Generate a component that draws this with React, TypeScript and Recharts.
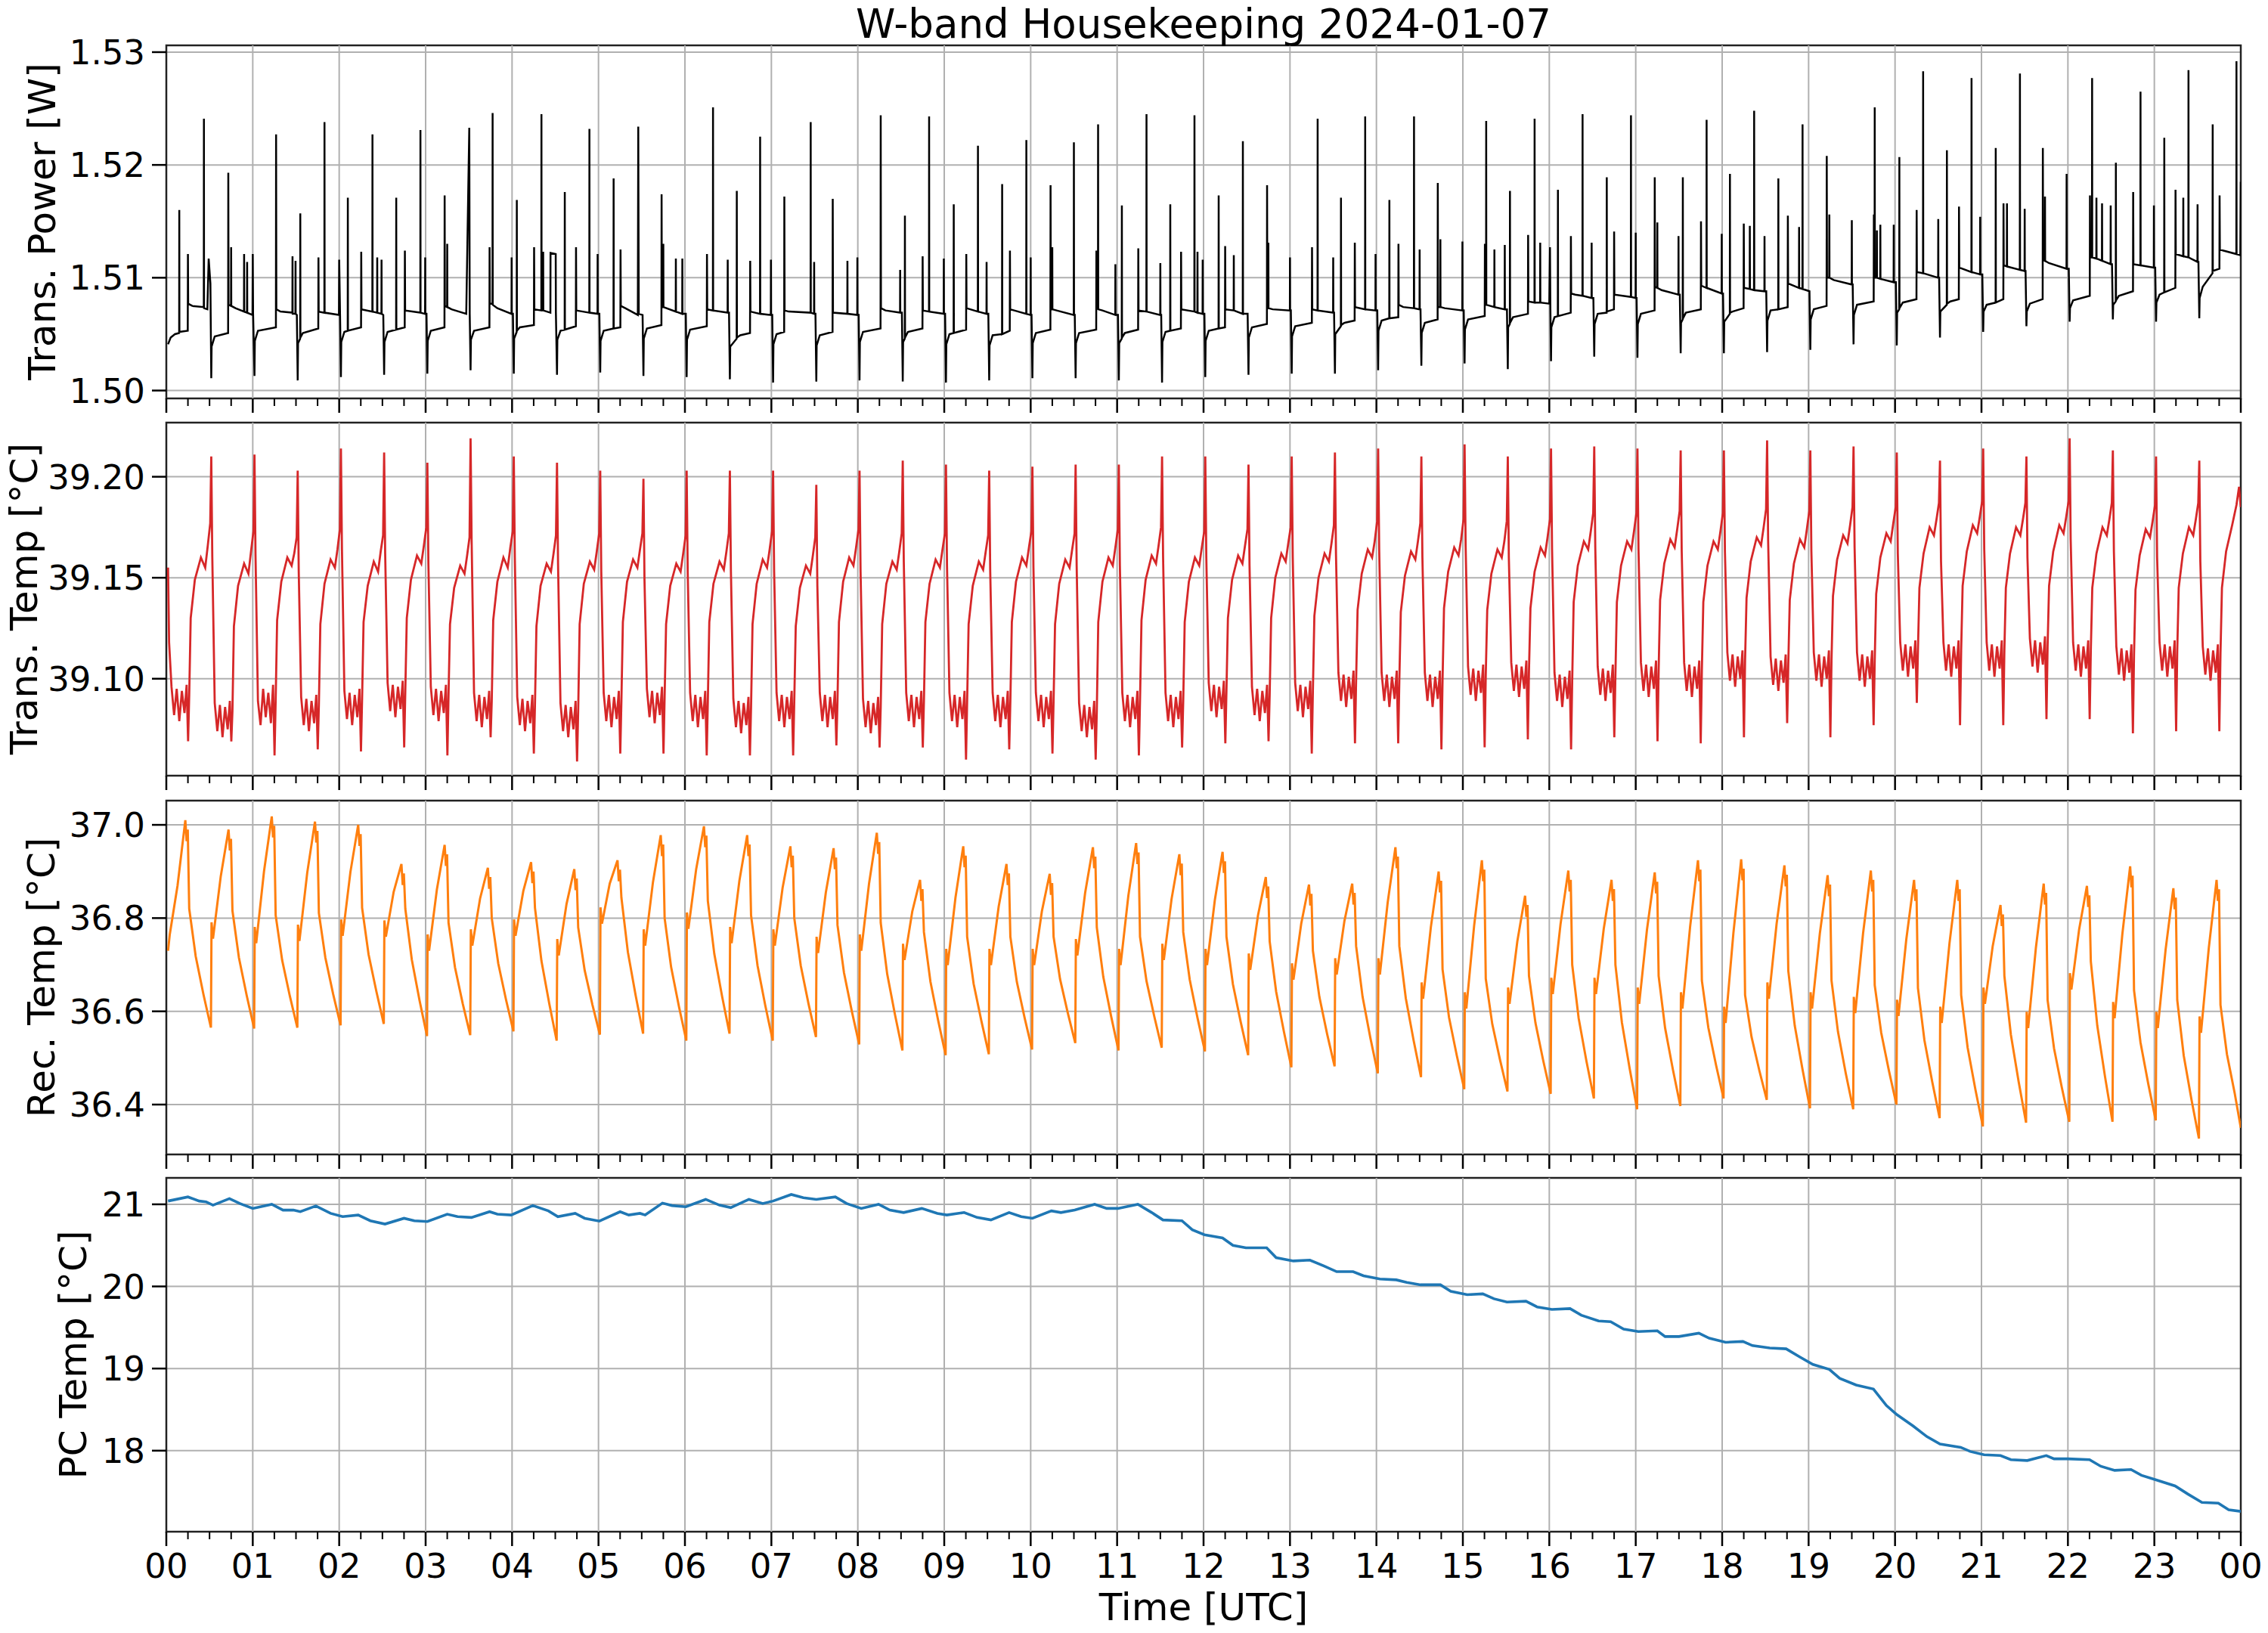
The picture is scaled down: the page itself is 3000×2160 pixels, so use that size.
import React from 'react'
import { LineChart, Line, XAxis, YAxis, CartesianGrid, ReferenceLine, ReferenceArea } from 'recharts'

const FONT = 'DejaVu Sans'

// x axis: hours of the day, major tick every hour, minor every 15 min
const hourLabels = ['00', '01', '02', '03', '04', '05', '06', '07', '08', '09', '10', '11', '12', '13', '14', '15', '16', '17', '18', '19', '20', '21', '22', '23', '00']
const quarterTicks = hourLabels.flatMap((_, h) => (h < 24 ? [h, h + 0.25, h + 0.5, h + 0.75] : [h]))
const gridHours = hourLabels.map((_, h) => h).filter((h) => h > 0 && h < 24)

const powerTicks = [1.5, 1.51, 1.52, 1.53]
const transTicks = [39.1, 39.15, 39.2]
const recTicks = [36.4, 36.6, 36.8, 37.0]
const pcTicks = [18, 19, 20, 21]

// [hour, W]
const transPower: [number, number][] = [
  [0.02,1.5041],[0.05,1.5047],[0.1,1.505],[0.1485,1.5051],[0.15,1.516],[0.1515,1.5052],[0.248,1.5053],[0.25,1.5121],[0.253,1.5077],[0.3,1.5075],[0.4335,1.5074],[0.435,1.5241],[0.4365,1.5073],[0.475,1.5072],[0.49,1.5117],[0.51,1.5095],
  [0.52,1.5011],[0.524,1.5039],[0.56,1.5048],[0.715,1.5051],[0.717,1.5193],[0.72,1.5076],[0.7485,1.5075],[0.75,1.5127],[0.7515,1.5075],[0.8,1.5073],[0.8985,1.507],[0.9,1.5121],[0.9015,1.507],[0.9335,1.5069],[0.935,1.5114],[0.9365,1.5069],[0.997,1.5067],[1.0,1.5121],[1.004,1.5068],
  [1.02,1.5013],[1.024,1.5044],[1.06,1.5053],[1.268,1.5056],[1.27,1.5227],[1.273,1.5072],[1.32,1.507],[1.4585,1.5069],[1.46,1.5119],[1.4615,1.5068],[1.4935,1.5068],[1.495,1.5115],[1.4965,1.5068],[1.51,1.5067],
  [1.52,1.5009],[1.524,1.5042],[1.5485,1.5046],[1.55,1.5157],[1.5515,1.5047],[1.58,1.5051],[1.758,1.5055],[1.76,1.5118],[1.763,1.507],[1.8285,1.5069],[1.83,1.5238],[1.8315,1.5069],[1.997,1.5067],[2.0,1.5116],[2.01,1.5067],
  [2.02,1.5012],[2.024,1.5043],[2.06,1.5052],[2.0985,1.5053],[2.1,1.5171],[2.1015,1.5053],[2.253,1.5056],[2.255,1.5123],[2.258,1.5072],[2.3835,1.507],[2.385,1.5227],[2.3865,1.507],[2.4385,1.5069],[2.44,1.5118],[2.4415,1.5069],[2.4885,1.5068],[2.49,1.5116],[2.4915,1.5068],[2.51,1.5067],
  [2.52,1.5014],[2.524,1.5043],[2.56,1.5052],[2.6585,1.5054],[2.66,1.5171],[2.6615,1.5054],[2.758,1.5056],[2.76,1.5124],[2.763,1.5071],[2.9385,1.5069],[2.94,1.5231],[2.9415,1.5069],[2.9935,1.5068],[2.995,1.5118],[2.9965,1.5068],[3.01,1.5068],
  [3.02,1.5015],[3.024,1.5044],[3.06,1.5053],[3.218,1.5056],[3.22,1.5173],[3.223,1.5075],[3.2485,1.5074],[3.25,1.513],[3.2515,1.5074],[3.3,1.5072],[3.47,1.5068],[3.505,1.5233],[3.51,1.5068],
  [3.52,1.5018],[3.524,1.5045],[3.56,1.5053],[3.738,1.5056],[3.74,1.5127],[3.743,1.5077],[3.7735,1.5077],[3.775,1.5246],[3.7765,1.5076],[3.83,1.5073],[3.9935,1.5068],[3.995,1.5118],[3.9965,1.5068],[4.01,1.5068],
  [4.02,1.5015],[4.024,1.5046],[4.0535,1.5052],[4.055,1.5169],[4.0565,1.5053],[4.09,1.5056],[4.253,1.5058],[4.255,1.5127],[4.258,1.5072],[4.3385,1.5071],[4.34,1.5245],[4.3415,1.5071],[4.3585,1.5071],[4.36,1.5123],[4.3615,1.5071],[4.4435,1.5069],[4.445,1.5122],[4.505,1.5121],[4.507,1.5069],
  [4.52,1.5014],[4.524,1.5045],[4.56,1.5053],[4.6085,1.5054],[4.61,1.5176],[4.6115,1.5054],[4.738,1.5057],[4.74,1.5127],[4.743,1.5071],[4.8935,1.5069],[4.895,1.5232],[4.8965,1.5069],[4.9885,1.5068],[4.99,1.5121],[4.9915,1.5068],[5.01,1.5068],
  [5.02,1.5016],[5.024,1.5044],[5.06,1.5053],[5.1735,1.5055],[5.175,1.5188],[5.1765,1.5055],[5.253,1.5056],[5.255,1.5125],[5.258,1.5075],[5.31,1.5073],[5.455,1.5067],[5.46,1.5234],[5.466,1.5068],[5.51,1.5067],
  [5.52,1.5013],[5.524,1.5046],[5.56,1.5055],[5.728,1.5058],[5.73,1.5174],[5.733,1.5074],[5.7485,1.5074],[5.75,1.513],[5.7515,1.5074],[5.8935,1.507],[5.895,1.5117],[5.8965,1.507],[5.9685,1.5068],[5.97,1.5117],[5.9715,1.5068],[6.01,1.5068],
  [6.02,1.5012],[6.024,1.5045],[6.06,1.5054],[6.253,1.5057],[6.255,1.5121],[6.258,1.5072],[6.3235,1.5071],[6.325,1.5251],[6.3265,1.5071],[6.4935,1.5069],[6.495,1.5116],[6.4965,1.5069],[6.51,1.5069],
  [6.52,1.501],[6.524,1.5039],[6.5985,1.5046],[6.6,1.5177],[6.6015,1.5047],[6.64,1.5049],[6.753,1.5051],[6.755,1.5115],[6.758,1.507],[6.8685,1.5068],[6.87,1.5225],[6.8715,1.5068],[6.9935,1.5067],[6.995,1.5116],[6.9965,1.5067],[7.01,1.5067],
  [7.02,1.5007],[7.024,1.5041],[7.06,1.505],[7.148,1.5052],[7.15,1.5172],[7.153,1.5071],[7.2,1.507],[7.4535,1.5069],[7.455,1.5238],[7.4565,1.5069],[7.4935,1.5068],[7.495,1.5114],[7.4965,1.5068],[7.51,1.5068],
  [7.52,1.5008],[7.524,1.504],[7.56,1.5049],[7.708,1.5052],[7.71,1.517],[7.713,1.5069],[7.8785,1.5068],[7.88,1.5115],[7.8815,1.5068],[7.9935,1.5067],[7.995,1.5118],[7.9965,1.5067],[8.01,1.5067],
  [8.02,1.5009],[8.024,1.5043],[8.06,1.5052],[8.263,1.5055],[8.265,1.5244],[8.268,1.5073],[8.32,1.5071],[8.4885,1.5069],[8.49,1.5107],[8.4915,1.5069],[8.51,1.5069],
  [8.52,1.5008],[8.524,1.5043],[8.5435,1.5046],[8.545,1.5155],[8.5465,1.5047],[8.58,1.5052],[8.748,1.5055],[8.75,1.5119],[8.753,1.5071],[8.8235,1.507],[8.825,1.5243],[8.8265,1.507],[8.9935,1.5068],[8.995,1.5117],[8.9965,1.5068],[9.01,1.5068],
  [9.02,1.5007],[9.024,1.5041],[9.06,1.505],[9.1085,1.5051],[9.11,1.5165],[9.1115,1.5051],[9.253,1.5054],[9.255,1.5121],[9.258,1.5073],[9.3885,1.507],[9.39,1.5217],[9.3915,1.507],[9.4885,1.5068],[9.49,1.5114],[9.4915,1.5068],[9.51,1.5068],
  [9.52,1.5009],[9.524,1.504],[9.56,1.5049],[9.6685,1.505],[9.67,1.5183],[9.6715,1.505],[9.758,1.5053],[9.76,1.5124],[9.763,1.5072],[9.9485,1.5068],[9.95,1.5222],[9.9515,1.5068],[9.9985,1.5067],[10.0,1.5118],[10.0015,1.5067],[10.01,1.5067],
  [10.02,1.5011],[10.024,1.5042],[10.06,1.5051],[10.228,1.5054],[10.23,1.5182],[10.233,1.5072],[10.2485,1.5072],[10.25,1.5127],[10.2515,1.5072],[10.3,1.5071],[10.4985,1.5067],[10.5,1.522],[10.5015,1.5067],[10.51,1.5067],
  [10.52,1.5011],[10.524,1.5042],[10.56,1.5051],[10.758,1.5054],[10.76,1.5124],[10.763,1.5073],[10.7785,1.5073],[10.78,1.5236],[10.7815,1.5072],[10.83,1.5071],[10.9785,1.5067],[10.98,1.5112],[10.9815,1.5067],[11.01,1.5067],
  [11.02,1.5009],[11.024,1.5042],[11.0535,1.5046],[11.055,1.5164],[11.0565,1.5047],[11.09,1.5051],[11.243,1.5054],[11.245,1.5126],[11.248,1.5071],[11.3385,1.507],[11.34,1.5245],[11.3415,1.507],[11.4985,1.5067],[11.5,1.5113],[11.5015,1.5067],[11.51,1.5067],
  [11.52,1.5007],[11.524,1.5043],[11.56,1.5052],[11.6135,1.5053],[11.615,1.5165],[11.6165,1.5053],[11.738,1.5055],[11.74,1.5123],[11.743,1.5072],[11.8935,1.507],[11.895,1.5244],[11.8965,1.507],[11.9285,1.5069],[11.93,1.5123],[11.9315,1.5069],[11.9885,1.5068],[11.99,1.5116],[11.9915,1.5068],[12.01,1.5068],
  [12.02,1.5012],[12.024,1.5044],[12.06,1.5053],[12.1735,1.5055],[12.175,1.5173],[12.1765,1.5055],[12.248,1.5056],[12.25,1.5128],[12.253,1.5072],[12.3485,1.5071],[12.35,1.512],[12.3515,1.5071],[12.4535,1.5068],[12.455,1.5221],[12.4565,1.5068],[12.51,1.5068],
  [12.52,1.5014],[12.524,1.5047],[12.56,1.5056],[12.733,1.5059],[12.735,1.5182],[12.738,1.5073],[12.7485,1.5073],[12.75,1.5131],[12.7515,1.5073],[12.8,1.5072],[12.9985,1.5071],[13.0,1.5118],[13.0015,1.5071],[13.01,1.5071],
  [13.02,1.5015],[13.024,1.5048],[13.06,1.5057],[13.253,1.506],[13.255,1.5127],[13.258,1.5072],[13.3185,1.5071],[13.32,1.5241],[13.3215,1.5071],[13.4985,1.5069],[13.5,1.5118],[13.5015,1.5069],[13.51,1.5069],
  [13.52,1.5015],[13.524,1.505],[13.5885,1.5057],[13.59,1.5171],[13.5915,1.5058],[13.63,1.506],[13.748,1.5062],[13.75,1.5131],[13.753,1.5074],[13.8685,1.5072],[13.87,1.5243],[13.8715,1.5072],[13.9885,1.5071],[13.99,1.5121],[13.9915,1.5071],[14.01,1.5071],
  [14.02,1.5018],[14.024,1.5053],[14.06,1.5062],[14.1485,1.5064],[14.15,1.5169],[14.1515,1.5064],[14.253,1.5065],[14.255,1.513],[14.258,1.5076],[14.31,1.5074],[14.4335,1.5073],[14.435,1.5243],[14.4365,1.5073],[14.4985,1.5072],[14.5,1.5125],[14.5015,1.5072],[14.51,1.5072],
  [14.52,1.5022],[14.524,1.5051],[14.56,1.506],[14.708,1.5063],[14.71,1.5184],[14.713,1.5074],[14.7385,1.5074],[14.74,1.5134],[14.7415,1.5074],[14.79,1.5073],[14.9935,1.5071],[14.995,1.5132],[14.9965,1.5071],[15.01,1.5071],
  [15.02,1.5024],[15.024,1.5054],[15.06,1.5063],[15.253,1.5066],[15.255,1.513],[15.258,1.5076],[15.2685,1.5076],[15.27,1.5239],[15.2715,1.5076],[15.3635,1.5074],[15.365,1.5125],[15.3665,1.5074],[15.4835,1.5072],[15.485,1.5129],[15.4865,1.5072],[15.51,1.5072],
  [15.52,1.5019],[15.524,1.5056],[15.5435,1.5059],[15.545,1.5177],[15.5465,1.506],[15.58,1.5065],[15.753,1.5068],[15.755,1.5138],[15.758,1.5079],[15.8285,1.5078],[15.83,1.5241],[15.8315,1.5078],[15.8935,1.5078],[15.895,1.5131],[15.8965,1.5078],[16.0,1.5077],[16.008,1.5127],[16.012,1.5077],
  [16.02,1.5026],[16.024,1.5056],[16.06,1.5065],[16.0985,1.5066],[16.1,1.5178],[16.1015,1.5066],[16.248,1.5069],[16.25,1.5137],[16.253,1.5086],[16.3,1.5085],[16.3835,1.5084],[16.385,1.5245],[16.3865,1.5084],[16.4885,1.5082],[16.49,1.5131],[16.4915,1.5082],[16.51,1.5082],
  [16.52,1.503],[16.524,1.5059],[16.56,1.5068],[16.6635,1.5069],[16.665,1.5189],[16.6665,1.507],[16.748,1.5072],[16.75,1.5141],[16.753,1.5085],[16.9435,1.5083],[16.945,1.5244],[16.9465,1.5083],[16.9985,1.5082],[17.0,1.514],[17.0015,1.5082],[17.01,1.5082],
  [17.02,1.5029],[17.024,1.5059],[17.06,1.5068],[17.218,1.5071],[17.22,1.5189],[17.223,1.5092],[17.2485,1.5091],[17.25,1.5149],[17.2515,1.5091],[17.3,1.5089],[17.4935,1.5085],[17.495,1.5137],[17.4965,1.5085],[17.51,1.5085],
  [17.52,1.5033],[17.524,1.506],[17.5435,1.5063],[17.545,1.5189],[17.5465,1.5064],[17.58,1.5069],[17.753,1.5072],[17.755,1.515],[17.758,1.5093],[17.8185,1.5091],[17.82,1.524],[17.8215,1.5091],[17.9935,1.5086],[17.995,1.5139],[17.9965,1.5086],[18.01,1.5086],
  [18.02,1.5033],[18.024,1.5061],[18.0885,1.5068],[18.09,1.5192],[18.0915,1.5069],[18.12,1.507],[18.248,1.5073],[18.25,1.5148],[18.253,1.5091],[18.3185,1.509],[18.32,1.5146],[18.3215,1.509],[18.3685,1.5089],[18.37,1.5248],[18.3715,1.5089],[18.4885,1.5088],[18.49,1.5137],[18.4915,1.5088],[18.51,1.5088],
  [18.52,1.5034],[18.524,1.5062],[18.56,1.5071],[18.6485,1.5072],[18.65,1.5188],[18.6515,1.5072],[18.758,1.5074],[18.76,1.5155],[18.763,1.5095],[18.8885,1.5091],[18.89,1.5145],[18.8915,1.5091],[18.9285,1.509],[18.93,1.5236],[18.9315,1.509],[19.01,1.5088],
  [19.02,1.5036],[19.024,1.5063],[19.06,1.5072],[19.208,1.5075],[19.21,1.5208],[19.213,1.51],[19.2385,1.51],[19.24,1.5156],[19.2415,1.51],[19.29,1.5098],[19.4985,1.5094],[19.5,1.5151],[19.5015,1.5094],[19.51,1.5094],
  [19.52,1.5041],[19.524,1.5067],[19.56,1.5076],[19.753,1.5079],[19.755,1.5156],[19.758,1.51],[19.7635,1.51],[19.765,1.5251],[19.7665,1.51],[19.7885,1.51],[19.79,1.5142],[19.7915,1.51],[19.8285,1.5099],[19.83,1.5147],[19.8315,1.5099],[19.9835,1.5096],[19.985,1.5147],[19.9865,1.5096],[20.01,1.5096],
  [20.02,1.504],[20.024,1.5069],[20.0485,1.5072],[20.05,1.5207],[20.0515,1.5073],[20.09,1.5078],[20.248,1.5081],[20.25,1.516],[20.253,1.5105],[20.3235,1.5104],[20.325,1.5283],[20.3265,1.5104],[20.4985,1.51],[20.5,1.5152],[20.5015,1.51],[20.51,1.51],
  [20.52,1.5047],[20.524,1.507],[20.5985,1.5076],[20.6,1.5213],[20.6015,1.5077],[20.64,1.5079],[20.738,1.5081],[20.74,1.5163],[20.743,1.5109],[20.8835,1.5105],[20.885,1.5277],[20.8865,1.5105],[20.9835,1.5103],[20.985,1.5154],[20.9865,1.5103],[21.01,1.5103],
  [21.02,1.5052],[21.024,1.507],[21.06,1.5076],[21.1635,1.5078],[21.165,1.5215],[21.1665,1.5078],[21.253,1.5081],[21.255,1.5166],[21.258,1.5111],[21.2935,1.511],[21.295,1.5166],[21.2965,1.511],[21.4435,1.5107],[21.445,1.5281],[21.4465,1.5107],[21.4985,1.5106],[21.5,1.5161],[21.5015,1.5106],[21.51,1.5106],
  [21.52,1.5057],[21.524,1.507],[21.56,1.5077],[21.708,1.5081],[21.71,1.5215],[21.713,1.5116],[21.7335,1.5115],[21.735,1.5172],[21.7365,1.5115],[21.78,1.5113],[21.9835,1.5108],[21.985,1.5192],[21.9865,1.5108],[22.01,1.5108],
  [22.02,1.5061],[22.024,1.5073],[22.06,1.508],[22.253,1.5084],[22.255,1.5173],[22.258,1.5118],[22.2785,1.5118],[22.28,1.5277],[22.2815,1.5118],[22.3285,1.5117],[22.33,1.5171],[22.3315,1.5117],[22.3935,1.5115],[22.395,1.5166],[22.3965,1.5115],[22.4935,1.5112],[22.495,1.5164],[22.4965,1.5112],[22.51,1.5112],
  [22.52,1.5063],[22.524,1.5076],[22.5535,1.5079],[22.555,1.5202],[22.5565,1.508],[22.59,1.5084],[22.753,1.5088],[22.755,1.5176],[22.758,1.5112],[22.8385,1.5111],[22.84,1.5265],[22.8415,1.5111],[22.9935,1.5109],[22.995,1.5164],[22.9965,1.5109],[23.01,1.5109],
  [23.02,1.5061],[23.024,1.5078],[23.06,1.5085],[23.1135,1.5087],[23.115,1.5224],[23.1165,1.5087],[23.243,1.5091],[23.245,1.5178],[23.248,1.5121],[23.3335,1.5119],[23.335,1.5171],[23.3365,1.5119],[23.3935,1.5118],[23.395,1.5284],[23.3965,1.5118],[23.4985,1.5114],[23.5,1.5165],[23.5015,1.5114],[23.51,1.5114],
  [23.52,1.5064],[23.524,1.5082],[23.56,1.5092],[23.673,1.5104],[23.675,1.5236],[23.6765,1.5106],[23.753,1.5108],[23.755,1.5173],[23.758,1.5125],[23.8,1.5124],[23.9485,1.5121],[23.95,1.5292],[23.9515,1.5121],[23.995,1.512],[24.0,1.5185],
]

// [hour, °C]
const transTemp: [number, number][] = [
  [0.02,39.155],[0.032,39.118],[0.06,39.096],[0.09,39.082],[0.12,39.095],[0.15,39.079],[0.18,39.094],[0.21,39.083],[0.235,39.097],[0.252,39.069],[0.265,39.092],[0.282,39.13],[0.33,39.149],[0.4,39.16],[0.45,39.155],[0.48,39.166],[0.508,39.177],
  [0.52,39.21],[0.532,39.16],[0.56,39.088],[0.59,39.074],[0.62,39.087],[0.65,39.071],[0.68,39.086],[0.71,39.075],[0.735,39.089],[0.752,39.069],[0.765,39.084],[0.782,39.126],[0.83,39.146],[0.9,39.157],[0.95,39.152],[0.98,39.163],[1.008,39.173],
  [1.02,39.211],[1.032,39.161],[1.06,39.089],[1.09,39.077],[1.12,39.095],[1.15,39.081],[1.18,39.093],[1.21,39.078],[1.235,39.097],[1.252,39.062],[1.265,39.089],[1.282,39.129],[1.33,39.148],[1.4,39.16],[1.45,39.156],[1.48,39.162],[1.508,39.17],
  [1.52,39.203],[1.532,39.153],[1.56,39.091],[1.59,39.077],[1.62,39.09],[1.65,39.074],[1.68,39.089],[1.71,39.078],[1.735,39.092],[1.752,39.065],[1.765,39.087],[1.782,39.127],[1.83,39.147],[1.9,39.159],[1.95,39.155],[1.98,39.164],[2.008,39.174],
  [2.02,39.214],[2.032,39.164],[2.06,39.094],[2.09,39.08],[2.12,39.093],[2.15,39.077],[2.18,39.092],[2.21,39.081],[2.235,39.095],[2.252,39.064],[2.265,39.09],[2.282,39.128],[2.33,39.146],[2.4,39.158],[2.45,39.153],[2.48,39.163],[2.508,39.171],
  [2.52,39.212],[2.532,39.162],[2.56,39.098],[2.59,39.084],[2.62,39.097],[2.65,39.081],[2.68,39.096],[2.71,39.085],[2.735,39.099],[2.752,39.066],[2.765,39.094],[2.782,39.13],[2.83,39.149],[2.9,39.161],[2.95,39.157],[2.98,39.166],[3.008,39.175],
  [3.02,39.207],[3.032,39.157],[3.06,39.096],[3.09,39.082],[3.12,39.095],[3.15,39.079],[3.18,39.094],[3.21,39.083],[3.235,39.097],[3.252,39.062],[3.265,39.092],[3.282,39.127],[3.33,39.145],[3.4,39.156],[3.45,39.152],[3.48,39.161],[3.508,39.17],
  [3.52,39.219],[3.532,39.169],[3.56,39.093],[3.59,39.079],[3.62,39.092],[3.65,39.076],[3.68,39.091],[3.71,39.08],[3.735,39.094],[3.752,39.071],[3.765,39.089],[3.782,39.129],[3.83,39.148],[3.9,39.16],[3.95,39.155],[3.98,39.165],[4.008,39.173],
  [4.02,39.21],[4.032,39.16],[4.06,39.091],[4.09,39.077],[4.12,39.09],[4.15,39.074],[4.18,39.089],[4.21,39.078],[4.235,39.092],[4.252,39.063],[4.265,39.087],[4.282,39.126],[4.33,39.146],[4.4,39.157],[4.45,39.153],[4.48,39.162],[4.508,39.171],
  [4.52,39.207],[4.532,39.157],[4.56,39.088],[4.59,39.074],[4.62,39.087],[4.65,39.071],[4.68,39.086],[4.71,39.075],[4.735,39.089],[4.752,39.059],[4.765,39.084],[4.782,39.127],[4.83,39.147],[4.9,39.158],[4.95,39.154],[4.98,39.163],[5.008,39.172],
  [5.02,39.203],[5.032,39.153],[5.06,39.093],[5.09,39.079],[5.12,39.092],[5.15,39.076],[5.18,39.091],[5.21,39.08],[5.235,39.094],[5.252,39.063],[5.265,39.089],[5.282,39.128],[5.33,39.148],[5.4,39.159],[5.45,39.155],[5.48,39.164],[5.508,39.172],
  [5.52,39.199],[5.532,39.149],[5.56,39.095],[5.59,39.081],[5.62,39.094],[5.65,39.078],[5.68,39.093],[5.71,39.082],[5.735,39.096],[5.752,39.063],[5.765,39.091],[5.782,39.127],[5.83,39.146],[5.9,39.157],[5.95,39.153],[5.98,39.162],[6.008,39.171],
  [6.02,39.203],[6.032,39.153],[6.06,39.093],[6.09,39.079],[6.12,39.092],[6.15,39.076],[6.18,39.091],[6.21,39.08],[6.235,39.094],[6.252,39.062],[6.265,39.089],[6.282,39.128],[6.33,39.147],[6.4,39.158],[6.45,39.154],[6.48,39.163],[6.508,39.172],
  [6.52,39.203],[6.532,39.153],[6.56,39.09],[6.59,39.076],[6.62,39.089],[6.65,39.073],[6.68,39.088],[6.71,39.077],[6.735,39.091],[6.752,39.062],[6.765,39.086],[6.782,39.127],[6.83,39.147],[6.9,39.159],[6.95,39.155],[6.98,39.164],[7.008,39.173],
  [7.02,39.203],[7.032,39.153],[7.06,39.093],[7.09,39.079],[7.12,39.092],[7.15,39.076],[7.18,39.091],[7.21,39.08],[7.235,39.094],[7.252,39.062],[7.265,39.089],[7.282,39.126],[7.33,39.145],[7.4,39.156],[7.45,39.152],[7.48,39.161],[7.508,39.17],
  [7.52,39.196],[7.532,39.146],[7.56,39.093],[7.59,39.079],[7.62,39.092],[7.65,39.076],[7.68,39.091],[7.71,39.08],[7.735,39.094],[7.752,39.067],[7.765,39.089],[7.782,39.128],[7.83,39.148],[7.9,39.16],[7.95,39.156],[7.98,39.165],[8.008,39.174],
  [8.02,39.203],[8.032,39.153],[8.06,39.09],[8.09,39.076],[8.12,39.089],[8.15,39.073],[8.18,39.088],[8.21,39.077],[8.235,39.091],[8.252,39.066],[8.265,39.086],[8.282,39.127],[8.33,39.147],[8.4,39.158],[8.45,39.154],[8.48,39.163],[8.508,39.172],
  [8.52,39.208],[8.532,39.158],[8.56,39.093],[8.59,39.079],[8.62,39.092],[8.65,39.076],[8.68,39.091],[8.71,39.08],[8.735,39.094],[8.752,39.066],[8.765,39.089],[8.782,39.128],[8.83,39.147],[8.9,39.159],[8.95,39.155],[8.98,39.164],[9.008,39.172],
  [9.02,39.206],[9.032,39.156],[9.06,39.093],[9.09,39.079],[9.12,39.092],[9.15,39.076],[9.18,39.091],[9.21,39.08],[9.235,39.094],[9.252,39.06],[9.265,39.089],[9.282,39.127],[9.33,39.146],[9.4,39.158],[9.45,39.154],[9.48,39.163],[9.508,39.171],
  [9.52,39.203],[9.532,39.153],[9.56,39.093],[9.59,39.079],[9.62,39.092],[9.65,39.076],[9.68,39.091],[9.71,39.08],[9.735,39.094],[9.752,39.065],[9.765,39.089],[9.782,39.128],[9.83,39.148],[9.9,39.16],[9.95,39.156],[9.98,39.165],[10.008,39.173],
  [10.02,39.205],[10.032,39.155],[10.06,39.093],[10.09,39.079],[10.12,39.092],[10.15,39.076],[10.18,39.091],[10.21,39.08],[10.235,39.094],[10.252,39.063],[10.265,39.089],[10.282,39.127],[10.33,39.147],[10.4,39.159],[10.45,39.155],[10.48,39.164],[10.508,39.172],
  [10.52,39.206],[10.532,39.156],[10.56,39.088],[10.59,39.074],[10.62,39.087],[10.65,39.071],[10.68,39.086],[10.71,39.075],[10.735,39.089],[10.752,39.06],[10.765,39.084],[10.782,39.128],[10.83,39.148],[10.9,39.16],[10.95,39.156],[10.98,39.165],[11.008,39.174],
  [11.02,39.206],[11.032,39.156],[11.06,39.093],[11.09,39.079],[11.12,39.092],[11.15,39.076],[11.18,39.091],[11.21,39.08],[11.235,39.094],[11.252,39.062],[11.265,39.089],[11.282,39.129],[11.33,39.149],[11.4,39.161],[11.45,39.157],[11.48,39.166],[11.508,39.175],
  [11.52,39.21],[11.532,39.16],[11.56,39.093],[11.59,39.079],[11.62,39.092],[11.65,39.076],[11.68,39.091],[11.71,39.08],[11.735,39.094],[11.752,39.066],[11.765,39.089],[11.782,39.128],[11.83,39.148],[11.9,39.16],[11.95,39.156],[11.98,39.165],[12.008,39.173],
  [12.02,39.21],[12.032,39.16],[12.06,39.098],[12.09,39.084],[12.12,39.097],[12.15,39.081],[12.18,39.096],[12.21,39.085],[12.235,39.099],[12.252,39.068],[12.265,39.094],[12.282,39.13],[12.33,39.149],[12.4,39.161],[12.45,39.157],[12.48,39.166],[12.508,39.174],
  [12.52,39.206],[12.532,39.156],[12.56,39.096],[12.59,39.082],[12.62,39.095],[12.65,39.079],[12.68,39.094],[12.71,39.083],[12.735,39.097],[12.752,39.069],[12.765,39.092],[12.782,39.13],[12.83,39.15],[12.9,39.162],[12.95,39.158],[12.98,39.167],[13.008,39.175],
  [13.02,39.21],[13.032,39.16],[13.06,39.098],[13.09,39.084],[13.12,39.097],[13.15,39.081],[13.18,39.096],[13.21,39.085],[13.235,39.099],[13.252,39.063],[13.265,39.094],[13.282,39.131],[13.33,39.15],[13.4,39.162],[13.45,39.158],[13.48,39.167],[13.508,39.176],
  [13.52,39.212],[13.532,39.162],[13.56,39.103],[13.59,39.089],[13.62,39.102],[13.65,39.086],[13.68,39.101],[13.71,39.09],[13.735,39.104],[13.752,39.068],[13.765,39.099],[13.782,39.134],[13.83,39.152],[13.9,39.164],[13.95,39.16],[13.98,39.168],[14.008,39.178],
  [14.02,39.214],[14.032,39.164],[14.06,39.103],[14.09,39.089],[14.12,39.102],[14.15,39.086],[14.18,39.101],[14.21,39.09],[14.235,39.104],[14.252,39.068],[14.265,39.099],[14.282,39.133],[14.33,39.151],[14.4,39.163],[14.45,39.159],[14.48,39.168],[14.508,39.177],
  [14.52,39.21],[14.532,39.16],[14.56,39.103],[14.59,39.089],[14.62,39.102],[14.65,39.086],[14.68,39.101],[14.71,39.09],[14.735,39.104],[14.752,39.065],[14.765,39.099],[14.782,39.135],[14.83,39.153],[14.9,39.165],[14.95,39.161],[14.98,39.169],[15.008,39.179],
  [15.02,39.216],[15.032,39.166],[15.06,39.106],[15.09,39.092],[15.12,39.105],[15.15,39.089],[15.18,39.104],[15.21,39.093],[15.235,39.107],[15.252,39.066],[15.265,39.102],[15.282,39.134],[15.33,39.152],[15.4,39.164],[15.45,39.16],[15.48,39.168],[15.508,39.178],
  [15.52,39.21],[15.532,39.16],[15.56,39.108],[15.59,39.094],[15.62,39.107],[15.65,39.091],[15.68,39.106],[15.71,39.095],[15.735,39.109],[15.752,39.07],[15.765,39.104],[15.782,39.135],[15.83,39.153],[15.9,39.165],[15.95,39.161],[15.98,39.17],[16.008,39.179],
  [16.02,39.214],[16.032,39.164],[16.06,39.103],[16.09,39.089],[16.12,39.102],[16.15,39.086],[16.18,39.101],[16.21,39.09],[16.235,39.104],[16.252,39.065],[16.265,39.099],[16.282,39.138],[16.33,39.156],[16.4,39.168],[16.45,39.164],[16.48,39.173],[16.508,39.182],
  [16.52,39.215],[16.532,39.165],[16.56,39.106],[16.59,39.092],[16.62,39.105],[16.65,39.089],[16.68,39.104],[16.71,39.093],[16.735,39.107],[16.752,39.071],[16.765,39.102],[16.782,39.138],[16.83,39.156],[16.9,39.168],[16.95,39.164],[16.98,39.173],[17.008,39.182],
  [17.02,39.214],[17.032,39.164],[17.06,39.108],[17.09,39.094],[17.12,39.107],[17.15,39.091],[17.18,39.106],[17.21,39.095],[17.235,39.109],[17.252,39.069],[17.265,39.104],[17.282,39.139],[17.33,39.157],[17.4,39.169],[17.45,39.165],[17.48,39.174],[17.508,39.183],
  [17.52,39.213],[17.532,39.163],[17.56,39.108],[17.59,39.094],[17.62,39.107],[17.65,39.091],[17.68,39.106],[17.71,39.095],[17.735,39.109],[17.752,39.068],[17.765,39.104],[17.782,39.138],[17.83,39.156],[17.9,39.168],[17.95,39.164],[17.98,39.173],[18.008,39.182],
  [18.02,39.213],[18.032,39.163],[18.06,39.113],[18.09,39.099],[18.12,39.112],[18.15,39.096],[18.18,39.111],[18.21,39.1],[18.235,39.114],[18.252,39.071],[18.265,39.109],[18.282,39.14],[18.33,39.158],[18.4,39.17],[18.45,39.166],[18.48,39.175],[18.508,39.184],
  [18.52,39.218],[18.532,39.168],[18.56,39.111],[18.59,39.097],[18.62,39.11],[18.65,39.094],[18.68,39.109],[18.71,39.098],[18.735,39.112],[18.752,39.078],[18.765,39.107],[18.782,39.139],[18.83,39.157],[18.9,39.169],[18.95,39.165],[18.98,39.174],[19.008,39.183],
  [19.02,39.213],[19.032,39.163],[19.06,39.113],[19.09,39.099],[19.12,39.112],[19.15,39.096],[19.18,39.111],[19.21,39.1],[19.235,39.114],[19.252,39.071],[19.265,39.109],[19.282,39.141],[19.33,39.159],[19.4,39.171],[19.45,39.167],[19.48,39.176],[19.508,39.185],
  [19.52,39.215],[19.532,39.165],[19.56,39.113],[19.59,39.099],[19.62,39.112],[19.65,39.096],[19.68,39.111],[19.71,39.1],[19.735,39.114],[19.752,39.077],[19.765,39.109],[19.782,39.142],[19.83,39.16],[19.9,39.172],[19.95,39.168],[19.98,39.177],[20.008,39.185],
  [20.02,39.212],[20.032,39.162],[20.06,39.118],[20.09,39.104],[20.12,39.117],[20.15,39.101],[20.18,39.116],[20.21,39.105],[20.235,39.119],[20.252,39.088],[20.265,39.114],[20.282,39.145],[20.33,39.162],[20.4,39.175],[20.45,39.171],[20.48,39.179],[20.508,39.187],
  [20.52,39.208],[20.532,39.158],[20.56,39.118],[20.59,39.104],[20.62,39.117],[20.65,39.101],[20.68,39.116],[20.71,39.105],[20.735,39.119],[20.752,39.077],[20.765,39.114],[20.782,39.146],[20.83,39.163],[20.9,39.176],[20.95,39.172],[20.98,39.18],[21.008,39.188],
  [21.02,39.214],[21.032,39.164],[21.06,39.118],[21.09,39.104],[21.12,39.117],[21.15,39.101],[21.18,39.116],[21.21,39.105],[21.235,39.119],[21.252,39.077],[21.265,39.114],[21.282,39.145],[21.33,39.162],[21.4,39.175],[21.45,39.171],[21.48,39.179],[21.508,39.187],
  [21.52,39.21],[21.532,39.16],[21.56,39.12],[21.59,39.106],[21.62,39.119],[21.65,39.103],[21.68,39.118],[21.71,39.107],[21.735,39.121],[21.752,39.08],[21.765,39.116],[21.782,39.146],[21.83,39.163],[21.9,39.176],[21.95,39.172],[21.98,39.18],[22.008,39.188],
  [22.02,39.219],[22.032,39.169],[22.06,39.118],[22.09,39.104],[22.12,39.117],[22.15,39.101],[22.18,39.116],[22.21,39.105],[22.235,39.119],[22.252,39.08],[22.265,39.114],[22.282,39.145],[22.33,39.162],[22.4,39.175],[22.45,39.171],[22.48,39.179],[22.508,39.187],
  [22.52,39.213],[22.532,39.163],[22.56,39.116],[22.59,39.102],[22.62,39.115],[22.65,39.099],[22.68,39.114],[22.71,39.103],[22.735,39.117],[22.752,39.073],[22.765,39.112],[22.782,39.144],[22.83,39.161],[22.9,39.174],[22.95,39.17],[22.98,39.178],[23.008,39.186],
  [23.02,39.21],[23.032,39.16],[23.06,39.118],[23.09,39.104],[23.12,39.117],[23.15,39.101],[23.18,39.116],[23.21,39.105],[23.235,39.119],[23.252,39.074],[23.265,39.114],[23.282,39.145],[23.33,39.162],[23.4,39.175],[23.45,39.171],[23.48,39.179],[23.508,39.187],
  [23.52,39.208],[23.532,39.158],[23.56,39.116],[23.59,39.102],[23.62,39.115],[23.65,39.099],[23.68,39.114],[23.71,39.103],[23.735,39.117],[23.752,39.074],[23.765,39.112],[23.782,39.145],[23.83,39.163],[23.9,39.176],[23.95,39.186],[23.98,39.195],[24.0,39.185],
]

// [hour, °C]
const recTemp: [number, number][] = [
  [0.02,36.73],[0.04,36.765],[0.13,36.87],[0.22,37.01],[0.235,36.965],[0.248,36.99],[0.265,36.82],[0.34,36.718],[0.43,36.636],[0.516,36.565],
  [0.523,36.791],[0.54,36.756],[0.63,36.89],[0.72,36.99],[0.735,36.945],[0.748,36.97],[0.765,36.816],[0.84,36.715],[0.93,36.634],[1.016,36.563],
  [1.023,36.781],[1.04,36.746],[1.13,36.9],[1.22,37.018],[1.235,36.973],[1.248,36.998],[1.265,36.806],[1.34,36.71],[1.43,36.632],[1.516,36.565],
  [1.523,36.786],[1.54,36.751],[1.63,36.897],[1.72,37.007],[1.735,36.962],[1.748,36.987],[1.765,36.811],[1.84,36.715],[1.93,36.637],[2.016,36.57],
  [2.023,36.797],[2.04,36.762],[2.13,36.899],[2.22,37.0],[2.235,36.955],[2.248,36.98],[2.265,36.822],[2.34,36.722],[2.43,36.643],[2.516,36.573],
  [2.523,36.795],[2.54,36.76],[2.63,36.856],[2.72,36.916],[2.735,36.871],[2.748,36.896],[2.765,36.82],[2.84,36.711],[2.93,36.623],[3.016,36.547],
  [3.023,36.765],[3.04,36.73],[3.13,36.861],[3.22,36.957],[3.235,36.912],[3.248,36.937],[3.265,36.79],[3.34,36.694],[3.43,36.616],[3.516,36.549],
  [3.523,36.776],[3.54,36.741],[3.63,36.842],[3.72,36.908],[3.735,36.863],[3.748,36.888],[3.765,36.8],[3.84,36.703],[3.93,36.625],[4.016,36.557],
  [4.023,36.797],[4.04,36.762],[4.13,36.858],[4.22,36.92],[4.235,36.875],[4.248,36.9],[4.265,36.822],[4.34,36.708],[4.43,36.617],[4.516,36.537],
  [4.523,36.755],[4.54,36.72],[4.63,36.83],[4.72,36.905],[4.735,36.86],[4.748,36.885],[4.765,36.78],[4.84,36.688],[4.93,36.614],[5.016,36.55],
  [5.023,36.823],[5.04,36.788],[5.13,36.874],[5.22,36.924],[5.235,36.879],[5.248,36.904],[5.265,36.844],[5.34,36.727],[5.43,36.634],[5.516,36.552],
  [5.523,36.776],[5.54,36.741],[5.63,36.877],[5.72,36.978],[5.735,36.933],[5.748,36.958],[5.765,36.8],[5.84,36.695],[5.93,36.611],[6.016,36.537],
  [6.023,36.812],[6.04,36.777],[6.13,36.905],[6.22,36.997],[6.235,36.952],[6.248,36.977],[6.265,36.837],[6.34,36.723],[6.43,36.632],[6.516,36.552],
  [6.523,36.781],[6.54,36.746],[6.63,36.88],[6.72,36.978],[6.735,36.933],[6.748,36.958],[6.765,36.806],[6.84,36.698],[6.93,36.612],[7.016,36.537],
  [7.023,36.776],[7.04,36.741],[7.13,36.865],[7.22,36.954],[7.235,36.909],[7.248,36.934],[7.265,36.8],[7.34,36.698],[7.43,36.616],[7.516,36.545],
  [7.523,36.76],[7.54,36.725],[7.63,36.855],[7.72,36.95],[7.735,36.905],[7.748,36.93],[7.765,36.785],[7.84,36.683],[7.93,36.601],[8.016,36.529],
  [8.023,36.765],[8.04,36.73],[8.13,36.874],[8.22,36.983],[8.235,36.938],[8.248,36.963],[8.265,36.79],[8.34,36.68],[8.43,36.593],[8.516,36.516],
  [8.523,36.745],[8.54,36.71],[8.63,36.814],[8.72,36.882],[8.735,36.837],[8.748,36.862],[8.765,36.77],[8.84,36.664],[8.93,36.58],[9.016,36.506],
  [9.023,36.734],[9.04,36.699],[9.13,36.844],[9.22,36.954],[9.235,36.909],[9.248,36.934],[9.265,36.76],[9.34,36.659],[9.43,36.579],[9.516,36.508],
  [9.523,36.734],[9.54,36.699],[9.63,36.825],[9.72,36.916],[9.735,36.871],[9.748,36.896],[9.765,36.76],[9.84,36.663],[9.93,36.586],[10.016,36.518],
  [10.023,36.734],[10.04,36.699],[10.13,36.815],[10.22,36.895],[10.235,36.85],[10.248,36.875],[10.265,36.76],[10.34,36.669],[10.43,36.596],[10.516,36.532],
  [10.523,36.755],[10.54,36.72],[10.63,36.854],[10.72,36.952],[10.735,36.907],[10.748,36.932],[10.765,36.78],[10.84,36.674],[10.93,36.59],[11.016,36.516],
  [11.023,36.734],[11.04,36.699],[11.13,36.848],[11.22,36.961],[11.235,36.916],[11.248,36.941],[11.265,36.76],[11.34,36.665],[11.43,36.589],[11.516,36.522],
  [11.523,36.745],[11.54,36.71],[11.63,36.841],[11.72,36.937],[11.735,36.892],[11.748,36.917],[11.765,36.77],[11.84,36.668],[11.93,36.586],[12.016,36.514],
  [12.023,36.734],[12.04,36.699],[12.13,36.838],[12.22,36.942],[12.235,36.897],[12.248,36.922],[12.265,36.76],[12.34,36.658],[12.43,36.577],[12.516,36.506],
  [12.523,36.724],[12.54,36.689],[12.63,36.806],[12.72,36.888],[12.735,36.843],[12.748,36.868],[12.765,36.75],[12.84,36.642],[12.93,36.556],[13.016,36.48],
  [13.023,36.703],[13.04,36.668],[13.13,36.788],[13.22,36.872],[13.235,36.827],[13.248,36.852],[13.265,36.73],[13.34,36.631],[13.43,36.551],[13.516,36.482],
  [13.523,36.714],[13.54,36.679],[13.63,36.794],[13.72,36.874],[13.735,36.829],[13.748,36.854],[13.765,36.74],[13.84,36.631],[13.93,36.543],[14.016,36.467],
  [14.023,36.714],[14.04,36.679],[14.13,36.833],[14.22,36.952],[14.235,36.907],[14.248,36.932],[14.265,36.74],[14.34,36.628],[14.43,36.538],[14.516,36.459],
  [14.523,36.662],[14.54,36.627],[14.63,36.781],[14.72,36.9],[14.735,36.855],[14.748,36.88],[14.765,36.69],[14.84,36.587],[14.93,36.505],[15.016,36.433],
  [15.023,36.641],[15.04,36.606],[15.13,36.783],[15.22,36.924],[15.235,36.879],[15.248,36.904],[15.265,36.67],[15.34,36.573],[15.43,36.496],[15.516,36.428],
  [15.523,36.651],[15.54,36.616],[15.63,36.75],[15.72,36.848],[15.735,36.803],[15.748,36.828],[15.765,36.676],[15.84,36.575],[15.93,36.494],[16.016,36.423],
  [16.023,36.672],[16.04,36.637],[16.13,36.787],[16.22,36.902],[16.235,36.857],[16.248,36.882],[16.265,36.7],[16.34,36.585],[16.43,36.493],[16.516,36.413],
  [16.523,36.672],[16.54,36.637],[16.63,36.777],[16.72,36.882],[16.735,36.837],[16.748,36.862],[16.765,36.7],[16.84,36.576],[16.93,36.477],[17.016,36.39],
  [17.023,36.651],[17.04,36.616],[17.13,36.775],[17.22,36.898],[17.235,36.853],[17.248,36.878],[17.265,36.676],[17.34,36.564],[17.43,36.475],[17.516,36.397],
  [17.523,36.641],[17.54,36.606],[17.63,36.783],[17.72,36.924],[17.735,36.879],[17.748,36.904],[17.765,36.666],[17.84,36.565],[17.93,36.484],[18.016,36.413],
  [18.023,36.61],[18.04,36.575],[18.13,36.768],[18.22,36.926],[18.235,36.881],[18.248,36.906],[18.265,36.635],[18.34,36.545],[18.43,36.473],[18.516,36.41],
  [18.523,36.662],[18.54,36.627],[18.63,36.788],[18.72,36.913],[18.735,36.868],[18.748,36.893],[18.765,36.687],[18.84,36.569],[18.93,36.475],[19.016,36.392],
  [19.023,36.641],[19.04,36.606],[19.13,36.767],[19.22,36.892],[19.235,36.847],[19.248,36.872],[19.265,36.666],[19.34,36.556],[19.43,36.467],[19.516,36.39],
  [19.523,36.631],[19.54,36.596],[19.63,36.767],[19.72,36.902],[19.735,36.857],[19.748,36.882],[19.765,36.656],[19.84,36.554],[19.93,36.472],[20.016,36.4],
  [20.023,36.625],[20.04,36.59],[20.13,36.754],[20.22,36.882],[20.235,36.837],[20.248,36.862],[20.265,36.65],[20.34,36.538],[20.43,36.449],[20.516,36.371],
  [20.523,36.61],[20.54,36.575],[20.63,36.746],[20.72,36.882],[20.735,36.837],[20.748,36.862],[20.765,36.635],[20.84,36.522],[20.93,36.432],[21.016,36.353],
  [21.023,36.651],[21.04,36.616],[21.13,36.74],[21.22,36.828],[21.235,36.783],[21.248,36.808],[21.265,36.676],[21.34,36.55],[21.43,36.449],[21.516,36.361],
  [21.523,36.599],[21.54,36.564],[21.63,36.737],[21.72,36.874],[21.735,36.829],[21.748,36.854],[21.765,36.624],[21.84,36.52],[21.93,36.436],[22.016,36.363],
  [22.023,36.682],[22.04,36.647],[22.13,36.776],[22.22,36.869],[22.235,36.824],[22.248,36.849],[22.265,36.707],[22.34,36.569],[22.43,36.459],[22.516,36.363],
  [22.523,36.62],[22.54,36.585],[22.63,36.766],[22.72,36.911],[22.735,36.866],[22.748,36.891],[22.765,36.645],[22.84,36.533],[22.93,36.444],[23.016,36.366],
  [23.023,36.599],[23.04,36.564],[23.13,36.732],[23.22,36.864],[23.235,36.819],[23.248,36.844],[23.265,36.624],[23.34,36.505],[23.43,36.41],[23.516,36.327],
  [23.523,36.589],[23.54,36.554],[23.63,36.736],[23.72,36.882],[23.735,36.837],[23.748,36.862],[23.765,36.614],[23.84,36.508],[23.93,36.424],[24.0,36.35],
]

// [hour, °C]
const pcTemp: [number, number][] = [
  [0.02,21.04],[0.25,21.09],[0.38,21.04],[0.46,21.03],[0.54,20.99],[0.73,21.07],[0.85,21.01],[1.0,20.95],[1.22,21.0],[1.35,20.93],[1.47,20.93],[1.55,20.91],
  [1.73,20.98],[1.9,20.89],[2.04,20.85],[2.22,20.87],[2.36,20.8],[2.53,20.76],[2.75,20.83],[2.87,20.8],[3.02,20.79],[3.25,20.88],[3.37,20.85],[3.53,20.84],
  [3.74,20.91],[3.83,20.88],[3.99,20.87],[4.24,20.985],[4.42,20.92],[4.53,20.85],[4.73,20.89],[4.84,20.83],[5.01,20.795],[5.25,20.91],[5.35,20.87],[5.48,20.89],
  [5.54,20.87],[5.74,21.015],[5.85,20.985],[6.01,20.97],[6.24,21.06],[6.4,20.99],[6.53,20.96],[6.74,21.06],[6.9,21.01],[7.02,21.04],[7.23,21.12],[7.37,21.08],
  [7.52,21.06],[7.74,21.09],[7.87,21.01],[8.04,20.95],[8.24,21.0],[8.37,20.93],[8.53,20.9],[8.74,20.95],[8.92,20.89],[9.03,20.87],[9.23,20.9],[9.38,20.84],
  [9.54,20.81],[9.75,20.9],[9.89,20.85],[10.02,20.83],[10.24,20.92],[10.35,20.9],[10.51,20.93],[10.74,21.0],[10.88,20.95],[11.01,20.95],[11.24,21.0],[11.4,20.9],
  [11.53,20.81],[11.75,20.8],[11.87,20.69],[12.01,20.63],[12.22,20.59],[12.34,20.5],[12.49,20.47],[12.73,20.47],[12.84,20.35],[13.04,20.31],[13.23,20.32],[13.39,20.25],
  [13.54,20.18],[13.73,20.18],[13.85,20.13],[14.04,20.09],[14.23,20.08],[14.35,20.05],[14.51,20.02],[14.74,20.02],[14.86,19.94],[15.05,19.9],[15.23,19.91],[15.36,19.85],
  [15.51,19.81],[15.73,19.82],[15.86,19.75],[16.03,19.72],[16.24,19.73],[16.37,19.65],[16.57,19.58],[16.71,19.57],[16.86,19.48],[17.03,19.45],[17.25,19.46],[17.34,19.39],
  [17.5,19.39],[17.73,19.43],[17.85,19.37],[18.04,19.32],[18.24,19.33],[18.35,19.28],[18.55,19.25],[18.74,19.24],[18.9,19.14],[19.05,19.05],[19.24,18.99],[19.36,18.88],
  [19.55,18.8],[19.75,18.75],[19.9,18.55],[20.02,18.44],[20.21,18.3],[20.37,18.17],[20.52,18.08],[20.76,18.04],[20.87,17.99],[21.03,17.95],[21.22,17.94],[21.34,17.89],
  [21.53,17.88],[21.75,17.94],[21.84,17.9],[22.0,17.9],[22.25,17.89],[22.38,17.81],[22.54,17.76],[22.73,17.77],[22.85,17.7],[23.0,17.65],[23.24,17.57],[23.39,17.47],
  [23.55,17.37],[23.74,17.36],[23.86,17.28],[24.0,17.26],
]

const toRows = (pts: [number, number][]) => pts.map(([t, v]) => ({ t, v }))

function TimeTick(props: any) {
  const { x, y, payload, showLabel } = props
  const v = payload.value as number
  const isHour = Math.abs(v - Math.round(v)) < 1e-6
  return (
    <g>
      <line x1={x} x2={x} y1={y} y2={y + (isHour ? 19 : 10)} stroke="#000" strokeWidth={isHour ? 2.5 : 2} />
      {showLabel && isHour && (
        <text x={x} y={y + 61} textAnchor="middle" fontSize={45} fontFamily={FONT} fill="#000">
          {hourLabels[Math.round(v)]}
        </text>
      )}
    </g>
  )
}

interface PanelProps {
  top: number
  plotH: number
  points: [number, number][]
  color: string
  lineWidth: number
  domain: [number, number]
  ticks: number[]
  fmt: (v: number) => string
  showTime?: boolean
}

const PAD_TOP = 40

function Panel({ top, plotH, points, color, lineWidth, domain, ticks, fmt, showTime }: PanelProps) {
  const xAxisH = showTime ? 90 : 30
  return (
    <div style={{ position: 'absolute', left: 0, top: top - PAD_TOP }}>
      <LineChart width={3000} height={PAD_TOP + plotH + xAxisH} data={toRows(points)} margin={{ top: PAD_TOP, right: 36, bottom: 0, left: 0 }}>
        <CartesianGrid vertical={false} stroke="#b0b0b0" strokeWidth={2} />
        {gridHours.map((h) => (
          <ReferenceLine key={h} x={h} stroke="#b0b0b0" strokeWidth={2} />
        ))}
        <XAxis
          type="number"
          dataKey="t"
          domain={[0, 24]}
          ticks={quarterTicks}
          interval={0}
          tickSize={0}
          tickMargin={0}
          axisLine={false}
          tickLine={false}
          height={xAxisH}
          allowDataOverflow
          tick={<TimeTick showLabel={!!showTime} />}
        />
        <YAxis
          type="number"
          domain={domain}
          ticks={ticks}
          interval={0}
          width={220}
          tickSize={19}
          tickMargin={9}
          allowDataOverflow
          axisLine={false}
          tickFormatter={fmt}
          tick={{ fontSize: 45, fill: '#000', fontFamily: FONT }}
          tickLine={{ stroke: '#000', strokeWidth: 2.5 }}
        />
        <Line type="linear" dataKey="v" stroke={color} strokeWidth={lineWidth} dot={false} isAnimationActive={false} />
        <ReferenceArea x1={0} x2={24} y1={domain[0]} y2={domain[1]} fill="none" fillOpacity={0} stroke="#222" strokeWidth={2.5} ifOverflow="visible" />
      </LineChart>
    </div>
  )
}

const yLabels = [
  { text: 'Trans. Power [W]', x: 73, y: 293 },
  { text: 'Trans. Temp [°C]', x: 49, y: 792 },
  { text: 'Rec. Temp [°C]', x: 72, y: 1293 },
  { text: 'PC Temp [°C]', x: 114, y: 1792 },
]

export default function App() {
  return (
    <div style={{ position: 'absolute', left: 0, top: 0, width: 3000, height: 2160, background: '#fff', fontFamily: FONT }}>
      <Panel top={60} plotH={467} points={transPower} color="#000000" lineWidth={2.5}
        domain={[1.4993, 1.5306]} ticks={powerTicks} fmt={(v) => v.toFixed(2)} />
      <Panel top={559} plotH={467} points={transTemp} color="#d62728" lineWidth={2.8}
        domain={[39.052, 39.2268]} ticks={transTicks} fmt={(v) => v.toFixed(2)} />
      <Panel top={1059} plotH={468} points={recTemp} color="#ff7f0e" lineWidth={3}
        domain={[36.293, 37.052]} ticks={recTicks} fmt={(v) => v.toFixed(1)} />
      <Panel top={1558} plotH={468} points={pcTemp} color="#1f77b4" lineWidth={3.6}
        domain={[17.013, 21.322]} ticks={pcTicks} fmt={(v) => String(v)} showTime />
      <svg width={3000} height={2160} style={{ position: 'absolute', left: 0, top: 0, pointerEvents: 'none' }}>
        <text x={1592} y={50} textAnchor="middle" fontSize={53} fontFamily={FONT} fill="#000">W-band Housekeeping 2024-01-07</text>
        {yLabels.map((l) => (
          <text key={l.text} transform={`translate(${l.x},${l.y}) rotate(-90)`} textAnchor="middle" fontSize={50} fontFamily={FONT} fill="#000">
            {l.text}
          </text>
        ))}
        <text x={1592} y={2143} textAnchor="middle" fontSize={50} fontFamily={FONT} fill="#000">Time [UTC]</text>
      </svg>
    </div>
  )
}
